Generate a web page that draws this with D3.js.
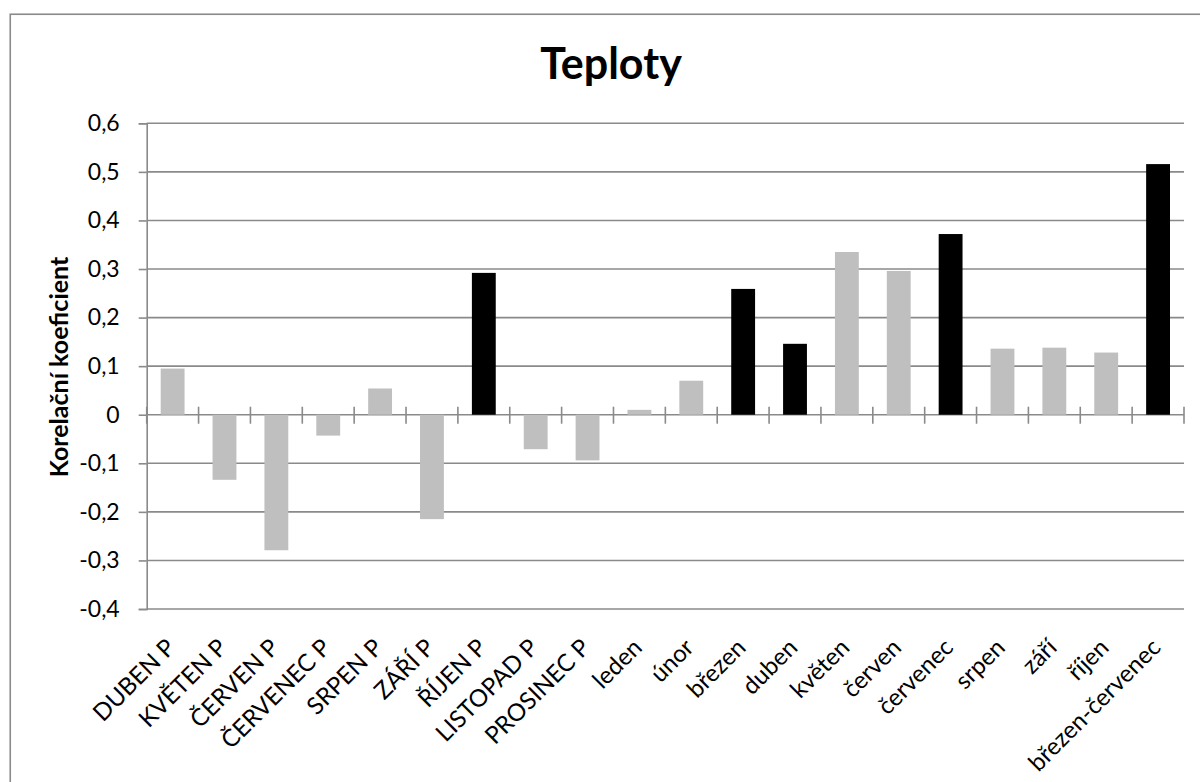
<!DOCTYPE html>
<html>
<head>
<meta charset="utf-8">
<script src="https://cdn.jsdelivr.net/npm/d3@7"></script>
<style>
  html, body { margin: 0; padding: 0; background: #fff; }
  svg { display: block; }
  text { font-family: Lato, "Open Sans", sans-serif; fill: #000; }
</style>
</head>
<body>
<svg id="chart" width="1200" height="782"></svg>
<script>
const title = "Teploty";
const yAxisTitle = "Korelační koeficient";
const categories = ["DUBEN P", "KVĚTEN P", "ČERVEN P", "ČERVENEC P", "SRPEN P", "ZÁŘÍ P", "ŘÍJEN P", "LISTOPAD P", "PROSINEC P", "leden", "únor", "březen", "duben", "květen", "červen", "červenec", "srpen", "září", "říjen", "březen-červenec"];
const values = [0.095, -0.134, -0.279, -0.043, 0.054, -0.215, 0.292, -0.071, -0.094, 0.010, 0.070, 0.259, 0.146, 0.335, 0.296, 0.372, 0.136, 0.138, 0.128, 0.516];
const highlighted = [false, false, false, false, false, false, true, false, false, false, false, true, true, false, false, true, false, false, false, true];
const yTicks = [-0.4, -0.3, -0.2, -0.1, 0, 0.1, 0.2, 0.3, 0.4, 0.5, 0.6];

const data = categories.map((c, i) => ({ cat: c, value: values[i], hi: highlighted[i] }));

const svg = d3.select("#chart");
const plotLeft = 146.7, plotRight = 1184, plotTop = 123.3, plotBottom = 609;
const gridColor = "#8a8a8a";

// outer frame (cut at right and bottom like the reference)
svg.append("rect")
  .attr("x", 10.25).attr("y", 14.25)
  .attr("width", 1300).attr("height", 900)
  .attr("fill", "none").attr("stroke", gridColor).attr("stroke-width", 1.6);

const x = d3.scaleBand().domain(categories).range([plotLeft, plotRight]).paddingInner(0.54).paddingOuter(0.27);
const y = d3.scaleLinear().domain([-0.4, 0.6]).range([plotBottom, plotTop]);

const fmt = v => (Math.abs(v) < 1e-9 ? "0" : d3.format(".1f")(v).replace(".", ",").replace("−", "-"));

// gridlines + y axis
const yAxis = d3.axisLeft(y).tickValues(yTicks).tickSize(8).tickPadding(19).tickFormat(fmt);
const gy = svg.append("g").attr("transform", `translate(${plotLeft},0)`).call(yAxis);
gy.select(".domain").attr("stroke", gridColor).attr("stroke-width", 1.6);
gy.selectAll(".tick line").attr("stroke", gridColor).attr("stroke-width", 1.6);
gy.selectAll(".tick text").attr("font-size", 23).attr("font-family", "Lato, sans-serif").attr("fill", "#000");

svg.append("g").selectAll("line").data(yTicks).join("line")
  .attr("x1", plotLeft).attr("x2", plotRight)
  .attr("y1", d => y(d)).attr("y2", d => y(d))
  .attr("stroke", gridColor).attr("stroke-width", 1.6);

// bars
svg.append("g").selectAll("rect").data(data).join("rect")
  .attr("x", d => x(d.cat))
  .attr("width", x.bandwidth())
  .attr("y", d => y(Math.max(0, d.value)))
  .attr("height", d => Math.abs(y(d.value) - y(0)))
  .attr("fill", d => d.hi ? "#000000" : "#bfbfbf");

// category tick marks crossing the zero line
const step = x.step();
const bounds = d3.range(categories.length + 1).map(i => plotLeft + i * step);
svg.append("g").selectAll("line").data(bounds).join("line")
  .attr("x1", d => d).attr("x2", d => d)
  .attr("y1", y(0) - 8).attr("y2", y(0) + 9)
  .attr("stroke", gridColor).attr("stroke-width", 1.6);

// category labels rotated -45
svg.append("g").selectAll("text").data(data).join("text")
  .attr("transform", d => `translate(${x(d.cat) + x.bandwidth() / 2 + 4},${plotBottom + 40}) rotate(-45)`)
  .attr("text-anchor", "end")
  .attr("font-size", 24)
  .text(d => d.cat);

// title
svg.append("text")
  .attr("x", 611).attr("y", 79)
  .attr("text-anchor", "middle")
  .attr("font-size", 43).attr("font-weight", "bold")
  .text(title);

// y axis title
svg.append("text")
  .attr("transform", `translate(68,367) rotate(-90)`)
  .attr("text-anchor", "middle")
  .attr("font-size", 25).attr("font-weight", "bold")
  .text(yAxisTitle);
</script>
</body>
</html>
